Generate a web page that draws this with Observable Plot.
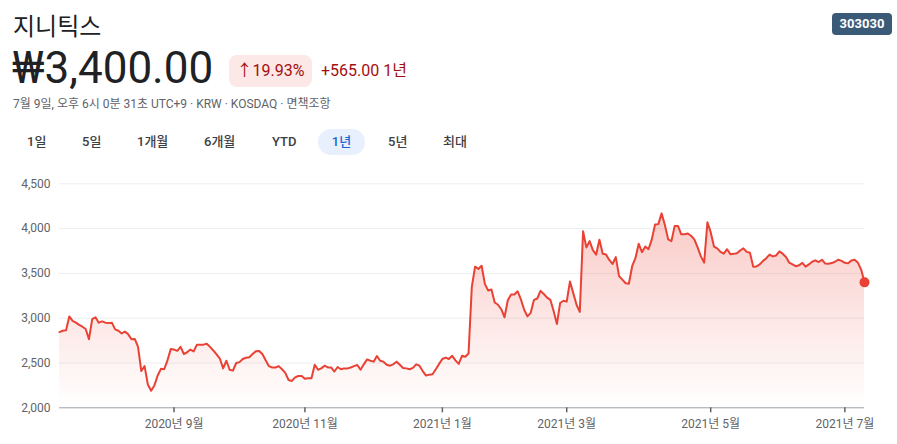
<!DOCTYPE html>
<html>
<head>
<meta charset="utf-8">
<script src="https://cdn.jsdelivr.net/npm/d3@7"></script>
<script src="https://cdn.jsdelivr.net/npm/@observablehq/plot@0.6"></script>
<style>
  html, body { margin: 0; padding: 0; background: #fff; }
  body { width: 897px; height: 444px; position: relative; overflow: hidden;
         font-family: Roboto, "Noto Sans CJK KR", sans-serif; color: #202124; }
  .abs { position: absolute; white-space: nowrap; }
  #name { left: 13px; top: 9px; font-size: 24px; font-family: "Noto Sans CJK KR", Roboto, sans-serif; font-weight: 400; color: #202124; line-height: 32px; }
  #price { left: 12px; top: 43px; font-size: 44px; line-height: 50px; color: #202124; }
  #badge { left: 229px; top: 55px; width: 83px; height: 32px; border-radius: 8px; background: #fce8e6;
           color: #a50e0e; font-size: 16px; line-height: 32px; text-align: center; }
  #change { left: 321px; top: 55px; font-size: 16px; line-height: 32px; color: #a50e0e; }
  #meta { left: 13px; top: 96px; font-size: 12px; line-height: 16px; color: #5f6368; }
  .tab { position: absolute; top: 129px; height: 26px; line-height: 26px; font-size: 13px; font-weight: 500; color: #3c4043; }
  #sel { left: 318px; width: 47px; border-radius: 13px; background: #e8f0fe; color: #1967d2; text-align: center; }
  #code { left: 832px; top: 13px; width: 60px; height: 22px; border-radius: 4px; background: #3b5a78; color: #fff;
          font-size: 13px; font-weight: 700; line-height: 22px; text-align: center; }
  #chart { position: absolute; left: 0; top: 165px; }
</style>
</head>
<body>
<div class="abs" id="name">지니틱스</div>
<div class="abs" id="price">₩3,400.00</div>
<div class="abs" id="badge">↑19.93%</div>
<div class="abs" id="change">+565.00 1년</div>
<div class="abs" id="meta">7월 9일, 오후 6시 0분 31초 UTC+9 · KRW · KOSDAQ · 면책조항</div>
<div class="tab" style="left:27px">1일</div>
<div class="tab" style="left:82px">5일</div>
<div class="tab" style="left:137px">1개월</div>
<div class="tab" style="left:204px">6개월</div>
<div class="tab" style="left:272px">YTD</div>
<div class="tab" id="sel">1년</div>
<div class="tab" style="left:388px">5년</div>
<div class="tab" style="left:443px">최대</div>
<div class="abs" id="code">303030</div>
<div id="chart"></div>
<script>
// Daily closing prices (one per trading day, 2020-07 .. 2021-07-09)
const prices = [
  2845, 2860, 2865, 3020, 2970, 2950, 2925, 2905, 2880, 2765,
  2990, 3010, 2950, 2965, 2950, 2945, 2950, 2875, 2860, 2830,
  2850, 2820, 2765, 2768, 2680, 2410, 2465, 2260, 2190, 2250,
  2360, 2435, 2430, 2530, 2655, 2650, 2635, 2680, 2600, 2620,
  2650, 2630, 2705, 2705, 2705, 2715, 2680, 2640, 2595, 2550,
  2440, 2525, 2425, 2415, 2500, 2510, 2545, 2558, 2565, 2600,
  2630, 2635, 2600, 2530, 2465, 2450, 2450, 2465, 2430, 2390,
  2310, 2300, 2340, 2355, 2355, 2325, 2330, 2330, 2480, 2425,
  2440, 2470, 2450, 2450, 2405, 2455, 2430, 2440, 2440, 2450,
  2465, 2478, 2425, 2485, 2540, 2525, 2515, 2578, 2525, 2515,
  2480, 2470, 2485, 2515, 2480, 2445, 2440, 2430, 2445, 2485,
  2470, 2410, 2360, 2370, 2375, 2430, 2490, 2545, 2560, 2545,
  2580, 2530, 2490, 2580, 2570, 2605, 3350, 3575, 3550, 3585,
  3380, 3310, 3320, 3175, 3150, 3100, 3010, 3200, 3265, 3265,
  3300, 3210, 3095, 3020, 3060, 3205, 3220, 3305, 3270, 3230,
  3205, 3080, 2935, 3170, 3195, 3185, 3410, 3280, 3150, 3070,
  3970, 3790, 3860, 3760, 3710, 3875, 3720, 3712, 3650, 3605,
  3682, 3470, 3430, 3390, 3385, 3580, 3670, 3830, 3737, 3800,
  3770, 3880, 4045, 4050, 4170, 4040, 3880, 3860, 4030, 4030,
  3936, 3936, 3945, 3920, 3880, 3790, 3690, 3620, 4070, 3960,
  3800, 3780, 3740, 3720, 3770, 3715, 3718, 3725, 3756, 3780,
  3740, 3730, 3575, 3578, 3600, 3640, 3670, 3710, 3690, 3700,
  3745, 3720, 3683, 3620, 3600, 3580, 3590, 3618, 3575, 3600,
  3630, 3646, 3627, 3653, 3610, 3608, 3615, 3630, 3653, 3640,
  3618, 3612, 3645, 3653, 3620, 3540, 3400
];
const yTicks = [2000, 2500, 3000, 3500, 4000, 4500];
const xTickIndex = [35, 75, 117, 155, 199, 240];
const xTickLabels = ["2020년 9월", "2020년 11월", "2021년 1월", "2021년 3월", "2021년 5월", "2021년 7월"];

const data = prices.map((v, i) => ({i, v}));
const last = data[data.length - 1];
const red = "#e94235";

const svg = Plot.plot({
  width: 897,
  height: 279,
  marginTop: 18.3,
  marginBottom: 36.7,
  marginLeft: 59,
  marginRight: 33,
  style: {fontFamily: 'Roboto, "Noto Sans CJK KR", sans-serif', fontSize: "12px", background: "transparent", color: "#5f6368"},
  x: {domain: [0, prices.length - 1], axis: null},
  y: {domain: [2000, 4500], axis: null},
  marks: [
    Plot.gridY(yTicks.slice(1), {stroke: "#eceef0", strokeOpacity: 1}),
    Plot.areaY(data, {x: "i", y1: 2000, y2: "v", fill: "url(#fillGrad)"}),
    Plot.ruleY([2000], {stroke: "#9aa0a6", strokeWidth: 1}),
    Plot.lineY(data, {x: "i", y: "v", stroke: red, strokeWidth: 2, curve: "linear"}),
    Plot.axisY(yTicks, {label: null, tickSize: 0, tickPadding: 9, tickFormat: d3.format(","), fill: "#5f6368", fontSize: 12}),
    Plot.axisX(xTickIndex, {label: null, tickSize: 5, tickPadding: 7, stroke: "#5f6368", strokeWidth: 1.5,
      tickFormat: d => xTickLabels[xTickIndex.indexOf(d)], fill: "#5f6368", fontSize: 12}),
    Plot.dot([last], {x: "i", y: "v", r: 5, fill: red, stroke: null})
  ]
});

const defs = d3.select(svg).insert("defs", ":first-child");
const grad = defs.append("linearGradient").attr("id", "fillGrad")
  .attr("x1", 0).attr("y1", 0).attr("x2", 0).attr("y2", 1);
grad.append("stop").attr("offset", "0%").attr("stop-color", red).attr("stop-opacity", 0.28);
grad.append("stop").attr("offset", "100%").attr("stop-color", red).attr("stop-opacity", 0.0);

document.getElementById("chart").appendChild(svg);
</script>
</body>
</html>
